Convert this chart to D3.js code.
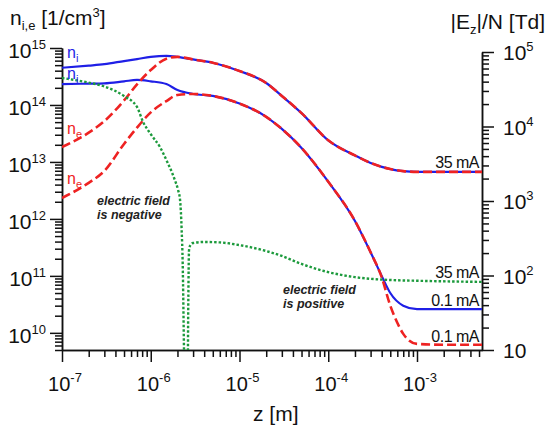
<!DOCTYPE html>
<html>
<head>
<meta charset="utf-8">
<script src="https://cdn.jsdelivr.net/npm/d3@7"></script>
<style>
body { margin: 0; background: #fff; }
text { font-family: Arial, "Liberation Sans", sans-serif; fill: #111; }
</style>
</head>
<body>
<script>
// axis ticks
const zTicks = [1e-7, 1e-6, 1e-5, 1e-4, 1e-3]
const nTicks = [1e10, 1e11, 1e12, 1e13, 1e14, 1e15]
const eTicks = [10, 1e2, 1e3, 1e4, 1e5]

// ion density, 35 mA
const zNi35 = [1e-7, 2e-7, 3e-7, 5e-7, 7e-7, 1e-6, 1.5e-6, 2e-6, 3e-6, 5e-6, 1e-5, 2e-5, 3e-5, 5e-5, 1e-4, 2e-4, 3e-4, 5e-4, 7e-4, 1e-3, 2e-3, 5.4e-3]
const ni35 = [4.5e14, 4.9e14, 5.2e14, 5.9e14, 6.4e14, 7.0e14, 7.3e14, 7.0e14, 6.3e14, 5.5e14, 3.95e14, 2.43e14, 1.44e14, 7.2e13, 2.4e13, 1.3e13, 9.6e12, 7.5e12, 6.9e12, 6.7e12, 6.7e12, 6.7e12]

// electron density, 35 mA
const zNe35 = [1e-7, 2e-7, 3e-7, 5e-7, 7e-7, 1e-6, 1.5e-6, 2e-6, 3e-6, 5e-6, 1e-5, 2e-5, 3e-5, 5e-5, 1e-4, 2e-4, 3e-4, 5e-4, 7e-4, 1e-3, 2e-3, 5.4e-3]
const ne35 = [1.83e13, 3.27e13, 5.2e13, 1.2e14, 2.3e14, 4.1e14, 6.5e14, 7.0e14, 6.3e14, 5.5e14, 3.95e14, 2.43e14, 1.44e14, 7.2e13, 2.4e13, 1.3e13, 9.6e12, 7.5e12, 6.9e12, 6.7e12, 6.7e12, 6.7e12]

// ion density, 0.1 mA
const zNi01 = [1e-7, 2e-7, 3e-7, 5e-7, 7e-7, 1e-6, 1.5e-6, 2e-6, 3e-6, 5e-6, 1e-5, 2e-5, 3e-5, 5e-5, 1e-4, 2e-4, 3e-4, 4e-4, 5e-4, 7e-4, 1e-3, 2e-3, 5.4e-3]
const ni01 = [2.33e14, 2.37e14, 2.4e14, 2.6e14, 2.75e14, 2.6e14, 2.33e14, 1.83e14, 1.56e14, 1.44e14, 1.06e14, 6.2e13, 3.8e13, 1.76e13, 4.5e12, 9.2e11, 2.6e11, 1.0e11, 5.0e10, 3.0e10, 2.6e10, 2.6e10, 2.6e10]

// electron density, 0.1 mA
const zNe01 = [1e-7, 2e-7, 3e-7, 5e-7, 7e-7, 1e-6, 1.5e-6, 2e-6, 3e-6, 5e-6, 1e-5, 2e-5, 3e-5, 5e-5, 1e-4, 2e-4, 3e-4, 4e-4, 5e-4, 6e-4, 7e-4, 1e-3, 2e-3, 5.4e-3]
const ne01 = [2.33e12, 4.3e12, 6.95e12, 2.07e13, 4.0e13, 7.4e13, 1.17e14, 1.5e14, 1.56e14, 1.44e14, 1.06e14, 6.2e13, 3.8e13, 1.76e13, 4.5e12, 9.2e11, 2.6e11, 9.5e10, 3.0e10, 1.5e10, 9.6e9, 6.4e9, 6.2e9, 6.2e9]

// |Ez|/N, 35 mA (drops off the log axis where the field changes sign)
const zE35 = [1e-7, 2e-7, 3e-7, 5e-7, 7e-7, 8.2e-7, 1e-6, 1.27e-6, 1.5e-6, 1.87e-6, 2.03e-6, 2.14e-6, 2.23e-6, 2.29e-6, 2.37e-6, 2.45e-6,
              2.58e-6, 2.65e-6, 2.7e-6, 2.8e-6, 3e-6, 4e-6, 6e-6, 1e-5, 2e-5, 3e-5, 5e-5, 1e-4, 2e-4, 5e-4, 1e-3, 5.4e-3]
const eN35 = [4.48e4, 3.88e4, 3.45e4, 2.56e4, 1.83e4, 1.15e4, 7.9e3, 5.3e3, 3.55e3, 1.91e3, 1.41e3, 1.03e3, 408, 147, 10, 1,
              1, 47, 220, 256, 273, 282, 278, 256, 213, 183, 143, 111, 95, 87, 85, 82]

const blue = '#1f1fe6'
const red = '#ee2222'
const green = '#1c9a3c'

const svg = d3.select('body').append('svg')
    .attr('width', 552)
    .attr('height', 433)
    .style('background-color', 'white')

const x = d3.scaleLog().domain([1e-7, 5.4e-3]).range([62, 482])
const yN = d3.scaleLog().domain([5e9, 1e15]).range([350, 48])
const yE = d3.scaleLog().domain([10, 1e5]).range([350, 52])

const isMajor = v => Math.abs(Math.log10(v) - Math.round(Math.log10(v))) < 1e-6

// axes
function drawAxis(axisFn, scale, transform) {
    const minor = scale.ticks().filter(v => !isMajor(v))
    const major = scale.ticks().filter(isMajor)
    svg.append('g').attr('transform', transform)
        .call(axisFn(scale).tickValues(minor).tickSize(7).tickSizeOuter(0).tickFormat(''))
    svg.append('g').attr('transform', transform)
        .call(axisFn(scale).tickValues(major).tickSize(12).tickSizeOuter(0).tickFormat(''))
}
drawAxis(d3.axisLeft, yN, 'translate(62,0)')
drawAxis(d3.axisRight, yE, 'translate(482,0)')
drawAxis(d3.axisBottom, x, 'translate(0,350)')
svg.selectAll('.domain, .tick line').attr('stroke', '#111').attr('stroke-width', 1.5)

function powLabel(sel, v) {
    const e = Math.round(Math.log10(v))
    sel.append('tspan').text('10')
    if (e !== 1) sel.append('tspan').attr('dy', -9).style('font-size', '13px').text(e)
}

nTicks.forEach(v => {
    const t = svg.append('text').attr('x', 46).attr('y', yN(v) + 10)
        .attr('text-anchor', 'end').style('font-size', '21px')
    powLabel(t, v)
})
eTicks.forEach(v => {
    const t = svg.append('text').attr('x', 503).attr('y', yE(v) + 8)
        .style('font-size', '21px')
    powLabel(t, v)
})
zTicks.forEach(v => {
    const t = svg.append('text').attr('x', x(v) + 3).attr('y', 391)
        .attr('text-anchor', 'middle').style('font-size', '20px')
    powLabel(t, v)
})

// axis titles
const tl = svg.append('text').attr('x', 10).attr('y', 25).style('font-size', '21px')
tl.append('tspan').text('n')
tl.append('tspan').attr('dy', 5).style('font-size', '13px').text('i,e')
tl.append('tspan').attr('dy', -5).text(' [1/cm')
tl.append('tspan').attr('dy', -8).style('font-size', '13px').text('3')
tl.append('tspan').attr('dy', 8).text(']')

const tr = svg.append('text').attr('x', 545).attr('y', 29).attr('text-anchor', 'end').style('font-size', '21px')
tr.append('tspan').text('|E')
tr.append('tspan').attr('dy', 5).style('font-size', '13px').text('z')
tr.append('tspan').attr('dy', -5).text('|/N [Td]')

svg.append('text').attr('x', 253).attr('y', 421).style('font-size', '21px').text('z [m]')

// curves
svg.append('clipPath').attr('id', 'plot')
    .append('rect').attr('x', 62).attr('y', 40).attr('width', 420).attr('height', 310)

const plot = svg.append('g').attr('clip-path', 'url(#plot)')

const lineN = d3.line().x(d => x(d[0])).y(d => yN(d[1])).curve(d3.curveMonotoneX)
const lineE = d3.line().x(d => x(d[0])).y(d => yE(d[1])).curve(d3.curveMonotoneX)

plot.append('path').datum(d3.zip(zNi35, ni35))
    .style('stroke', blue).style('stroke-width', 2.2).style('fill', 'none').attr('d', lineN)
plot.append('path').datum(d3.zip(zNi01, ni01))
    .style('stroke', blue).style('stroke-width', 2.2).style('fill', 'none').attr('d', lineN)
plot.append('path').datum(d3.zip(zNe35, ne35))
    .style('stroke', red).style('stroke-width', 2.6).style('fill', 'none')
    .style('stroke-dasharray', '9,4').attr('d', lineN)
plot.append('path').datum(d3.zip(zNe01, ne01))
    .style('stroke', red).style('stroke-width', 2.6).style('fill', 'none')
    .style('stroke-dasharray', '9,4').attr('d', lineN)
plot.append('path').datum(d3.zip(zE35, eN35))
    .style('stroke', green).style('stroke-width', 2.4).style('fill', 'none')
    .style('stroke-dasharray', '2.5,2').attr('d', lineE)

// curve labels
function subLabel(px, py, main, sub, color) {
    const t = svg.append('text').attr('x', px).attr('y', py).style('font-size', '16px').style('fill', color)
    t.append('tspan').text(main)
    t.append('tspan').attr('dy', 4).style('font-size', '11px').style('fill', color).text(sub)
}
subLabel(67, 58, 'n', 'i', blue)
subLabel(67, 79, 'n', 'i', blue)
subLabel(67, 134, 'n', 'e', red)
subLabel(67, 184, 'n', 'e', red)

const mA = [['35 mA', 168], ['35 mA', 278], ['0.1 mA', 306], ['0.1 mA', 342]]
mA.forEach(d => {
    svg.append('text').attr('x', 479).attr('y', d[1]).attr('text-anchor', 'end')
        .style('font-size', '16px').style('letter-spacing', '-0.5px').text(d[0])
})

const notes = [['electric field', 97, 205], ['is negative', 97, 219], ['electric field', 283, 294], ['is positive', 283, 308]]
notes.forEach(d => {
    svg.append('text').attr('x', d[1]).attr('y', d[2])
        .style('font-size', '12.5px').style('font-weight', 'bold').style('font-style', 'italic')
        .style('fill', '#222').text(d[0])
})
</script>
</body>
</html>
